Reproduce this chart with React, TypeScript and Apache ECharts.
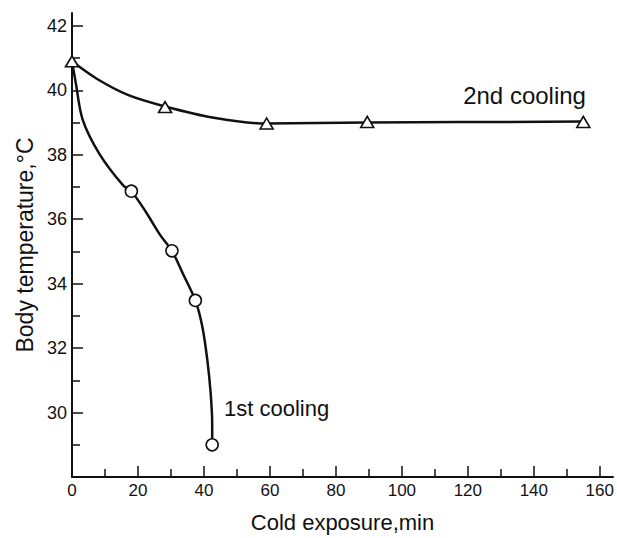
import React, { useEffect, useRef } from "react";
import * as echarts from "echarts";

// Traced curves (minutes, °C)
const firstCurve: [number, number][] = [
  [0, 40.9], [1.1, 40.26], [3.2, 39.1], [8.3, 38.03], [15.5, 37.05], [18, 36.87],
  [22.5, 36.21], [26.8, 35.5], [30.3, 35.02], [33.7, 34.29], [37.4, 33.48],
  [39.5, 32.67], [41.0, 31.65], [42.0, 30.64], [42.5, 29.64], [42.5, 29.0],
];
const secondCurve: [number, number][] = [
  [0, 40.9], [7.5, 40.36], [17.1, 39.85], [28.2, 39.5], [43, 39.15],
  [59, 38.97], [89.5, 39.0], [155, 39.03],
];
// Measured points
const firstPoints: [number, number][] = [[18, 36.87], [30.3, 35.02], [37.4, 33.48], [42.5, 29.0]];
const secondPoints: [number, number][] = [[0, 40.9], [28.2, 39.48], [59, 38.97], [89.5, 39.02], [155, 39.02]];

const xMajor = [0, 20, 40, 60, 80, 100, 120, 140, 160];
const xMinor = [10, 30, 50, 70, 90, 110, 130, 150];
const yMajor = [30, 32, 34, 36, 38, 40, 42];
const yMinor = [29, 31, 33, 35, 37, 39, 41];

const FONT = "Liberation Sans";
const INK = "#111";

export default function App() {
  const ref = useRef<HTMLDivElement>(null);
  useEffect(() => {
    if (!ref.current) return;
    const chart = echarts.init(ref.current, null, { renderer: "svg" });
    const baseX = {
      type: "value", min: 0, max: 164,
      splitLine: { show: false },
      axisLine: { lineStyle: { color: INK, width: 2 } },
    };
    const baseY = {
      type: "value", min: 28, max: 42.4,
      splitLine: { show: false },
      axisLine: { lineStyle: { color: INK, width: 2 } },
    };
    chart.setOption({
      animation: false,
      backgroundColor: "#fff",
      grid: { left: 72, top: 13, width: 541, height: 474 },
      xAxis: [
        {
          ...baseX,
          name: "Cold exposure,min",
          nameLocation: "middle",
          nameGap: 34,
          nameTextStyle: { fontFamily: FONT, fontSize: 22, color: INK },
          axisTick: { inside: true, length: 11, lineStyle: { color: INK, width: 1.5 }, customValues: xMajor },
          axisLabel: { customValues: xMajor, margin: 5, fontFamily: FONT, fontSize: 17, color: INK },
        },
        {
          ...baseX,
          position: "bottom",
          axisLine: { show: false },
          axisTick: { inside: true, length: 8, lineStyle: { color: INK, width: 1.5 }, customValues: xMinor },
          axisLabel: { show: false },
        },
      ],
      yAxis: [
        {
          ...baseY,
          name: "Body temperature,°C",
          nameLocation: "middle",
          nameGap: 35,
          nameTextStyle: { fontFamily: FONT, fontSize: 23, color: INK },
          axisTick: { inside: true, length: 11, lineStyle: { color: INK, width: 1.5 }, customValues: yMajor },
          axisLabel: { customValues: yMajor, margin: 5, fontFamily: FONT, fontSize: 18, color: INK },
        },
        {
          ...baseY,
          position: "left",
          axisLine: { show: false },
          axisTick: { inside: true, length: 8, lineStyle: { color: INK, width: 1.5 }, customValues: yMinor },
          axisLabel: { show: false },
        },
      ],
      series: [
        {
          type: "line", data: firstCurve, smooth: 0.3, showSymbol: false, symbol: "none",
          lineStyle: { color: INK, width: 2.5 }, z: 2,
        },
        {
          type: "line", data: secondCurve, smooth: 0.3, showSymbol: false, symbol: "none",
          lineStyle: { color: INK, width: 2.5 }, z: 2,
        },
        {
          type: "scatter",
          symbol: "circle", symbolSize: 12,
          itemStyle: { color: "#fff", borderColor: INK, borderWidth: 1.6, opacity: 1 },
          z: 3,
          data: firstPoints.map((p, i) =>
            i === firstPoints.length - 1
              ? {
                  value: p,
                  label: {
                    show: true, formatter: "1st cooling", position: "right", distance: 5,
                    offset: [0, -36], fontFamily: FONT, fontSize: 22, color: INK,
                  },
                }
              : { value: p }
          ),
        },
        {
          type: "scatter",
          symbol: "triangle", symbolSize: [13, 11],
          itemStyle: { color: "#fff", borderColor: INK, borderWidth: 1.6, opacity: 1 },
          z: 3,
          data: secondPoints.map((p, i) =>
            i === secondPoints.length - 1
              ? {
                  value: p,
                  label: {
                    show: true, formatter: "2nd cooling", position: "left", distance: 5,
                    offset: [15, -26], fontFamily: FONT, fontSize: 24, color: INK,
                  },
                }
              : { value: p }
          ),
        },
      ],
    });
    return () => chart.dispose();
  }, []);
  return (
    <div
      ref={ref}
      style={{ position: "absolute", left: 0, top: 0, width: 617, height: 538 }}
    />
  );
}
